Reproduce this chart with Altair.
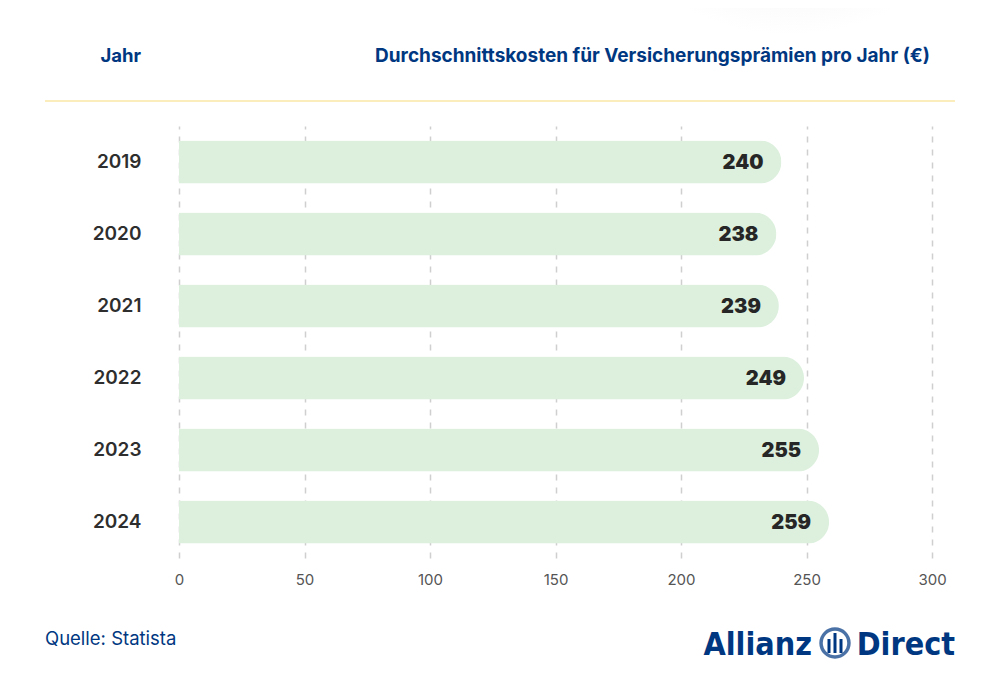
import altair as alt
import pandas as pd

years = ["2019", "2020", "2021", "2022", "2023", "2024"]
costs = [240, 238, 239, 249, 255, 259]
x_ticks = [0, 50, 100, 150, 200, 250, 300]

df = pd.DataFrame({"Jahr": years, "Kosten": costs})

BLUE = "#003781"
FONT = "Inter"

x_scale = alt.Scale(domain=[0, 300], nice=False)
y_scale = alt.Scale(domain=years, paddingInner=0.4, paddingOuter=0.2)

base = alt.Chart(df)

bars = base.mark_bar(color="#dcf0dd", cornerRadiusEnd=22).encode(
    x=alt.X("Kosten:Q", scale=x_scale,
            axis=alt.Axis(values=x_ticks, title=None, domain=False, ticks=False,
                          grid=True, gridDash=[6, 7], gridColor="#cfcfcf", gridWidth=1.5,
                          labelFont=FONT, labelFontSize=15, labelColor="#555555",
                          labelPadding=14, labelFlush=False)),
    y=alt.Y("Jahr:N", scale=y_scale, sort=years,
            axis=alt.Axis(title=None, domain=False, ticks=False, grid=False,
                          labelFont=FONT, labelFontSize=19, labelFontWeight=600,
                          labelColor="#2e2e2e", labelPadding=38)),
)

labels = base.mark_text(align="right", baseline="middle", dx=-18, dy=1,
                        font=FONT, fontSize=20, fontWeight=900, color="#262626").encode(
    x=alt.X("Kosten:Q", scale=x_scale),
    y=alt.Y("Jahr:N", scale=y_scale, sort=years),
    text=alt.Text("Kosten:Q"),
)

one = pd.DataFrame({"a": [0]})

def txt(s, x, y, size, weight, color=BLUE, align="left", font=FONT):
    return alt.Chart(one).mark_text(text=s, align=align, baseline="alphabetic",
                                    font=font, fontSize=size, fontWeight=weight,
                                    color=color).encode(x=alt.value(x), y=alt.value(y))

shadow = alt.Chart(one).mark_rect(
    color={"gradient": "radial", "x1": 0.5, "y1": 0.0, "x2": 0.5, "y2": 0.0,
           "r1": 0.0, "r2": 0.5,
           "stops": [{"offset": 0, "color": "#e6e6e6"},
                     {"offset": 0.6, "color": "#f4f4f4"},
                     {"offset": 1, "color": "#ffffff"}]}
).encode(x=alt.value(391), x2=alt.value(831), y=alt.value(-126), y2=alt.value(-56))

head_left = txt("Jahr", -38, -64, 18.5, 700, align="right")
head_right = txt("Durchschnittskosten für Versicherungsprämien pro Jahr (€)", 751, -64, 19, 700, align="right")
yellow = alt.Chart(one).mark_rule(color="#fbe7a6", strokeWidth=1.5).encode(
    x=alt.value(-134), x2=alt.value(776), y=alt.value(-25))
source = txt("Quelle: Statista", -134, 519, 18.5, 400)

LOGO_FONT = "'DejaVu Sans Condensed', Roboto, sans-serif"
logo1 = txt("Allianz", 633, 529, 32, 700, align="right", font=LOGO_FONT)
logo2 = txt("Direct", 776, 529, 32, 700, align="right", font=LOGO_FONT)
circle = alt.Chart(one).mark_point(shape="circle", filled=False, size=780,
                                   stroke=BLUE, strokeWidth=3.5).encode(
    x=alt.value(656), y=alt.value(517))
bar_l = alt.Chart(one).mark_rule(color=BLUE, strokeWidth=3).encode(
    x=alt.value(650), y=alt.value(513), y2=alt.value(527))
bar_m = alt.Chart(one).mark_rule(color=BLUE, strokeWidth=3).encode(
    x=alt.value(656), y=alt.value(507), y2=alt.value(527))
bar_r = alt.Chart(one).mark_rule(color=BLUE, strokeWidth=3).encode(
    x=alt.value(662), y=alt.value(513), y2=alt.value(527))

chart = alt.layer(
    shadow, bars, labels, head_left, head_right, yellow, source,
    logo1, logo2, circle, bar_l, bar_m, bar_r
).properties(
    width=753, height=432,
    autosize=alt.AutoSizeParams(type="none"),
    padding={"left": 171, "top": 118, "right": 60, "bottom": 134},
    background="white",
).configure_view(stroke=None)

chart.save("out.html", embed_options={"renderer": "svg", "actions": False})
